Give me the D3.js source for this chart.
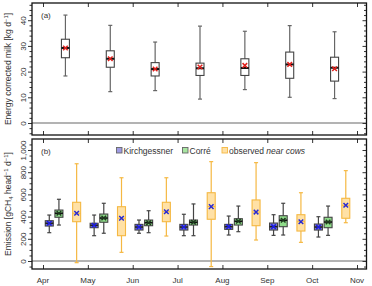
<!DOCTYPE html>
<html lang="en">
<head>
<meta charset="UTF-8">
<title>Milk and methane emission</title>
<script src="https://d3js.org/d3.v7.min.js"></script>
<style>
body { margin: 0; background: #fff; }
svg { font-family: "Liberation Sans", Arial, sans-serif; }
</style>
</head>
<body>
<svg width="372" height="286"></svg>
<script>
// month labels (ticks at the first of each month)
const months = ["Apr", "May", "Jun", "Jul", "Aug", "Sep", "Oct", "Nov"];

// box stats per month: [whisker low, q1, median, q3, whisker high, mean]
const milk = [
  [18.3, 25.4, 29.2, 32.6, 42.0, 29.2],
  [12.2, 21.7, 25.0, 28.1, 38.0, 25.0],
  [12.6, 18.3, 21.0, 23.5, 31.5, 21.0],
  [9.3, 18.5, 21.3, 23.3, 37.7, 21.8],
  [13.0, 18.5, 21.4, 25.0, 35.7, 22.4],
  [10.0, 17.4, 22.8, 27.6, 37.9, 22.8],
  [9.5, 16.3, 21.5, 25.6, 35.5, 21.1]
];
const kirchgessner = [
  [255, 315, 340, 363, 414, 340],
  [228, 300, 322, 340, 414, 322],
  [250, 279, 306, 330, 369, 306],
  [228, 279, 306, 330, 421, 306],
  [234, 285, 309, 330, 405, 309],
  [231, 279, 309, 342, 417, 309],
  [216, 279, 306, 333, 399, 306]
];
const corre = [
  [324, 394, 430, 459, 556, 430],
  [250, 349, 387, 423, 520, 387],
  [255, 318, 345, 369, 453, 345],
  [228, 324, 349, 369, 514, 349],
  [264, 324, 358, 381, 495, 358],
  [234, 309, 367, 408, 520, 367],
  [231, 300, 351, 394, 495, 351]
];
const observed = [
  [-15, 354, 430, 529, 876, 430],
  [78, 228, 385, 489, 750, 385],
  [225, 354, 444, 529, 750, 444],
  [-50, 376, 490, 615, 895, 490],
  [189, 318, 441, 550, 886, 441],
  [168, 270, 354, 417, 615, 354],
  [345, 385, 502, 565, 814, 502]
];

const svg = d3.select("svg");
const left = 32, right = 366.5;
const x = d3.scaleLinear().domain([0, 7]).range([43, 357]);
const yA = d3.scaleLinear().domain([-4.67, 46.7]).range([135, 3]);
const yB = d3.scaleLinear().domain([-72, 1099]).range([269, 139]);

function frame(y, major, minor) {
  const [y0, y1] = y.range();
  const g = svg.append("g");
  // zero line
  g.append("line").attr("x1", left).attr("x2", right)
    .attr("y1", y(0)).attr("y2", y(0))
    .attr("stroke", "#9a9a9a").attr("stroke-width", 1.6);
  // left axis, ticks outward
  const la = g.append("g").attr("transform", `translate(${left},0)`)
    .call(d3.axisLeft(y).tickValues(major).tickSize(4).tickSizeOuter(0));
  la.select(".domain").remove();
  la.selectAll("text").attr("transform", "rotate(-90)")
    .attr("x", 0).attr("y", -6).attr("dy", 0)
    .attr("text-anchor", "middle").attr("font-size", 8).attr("fill", "#333");
  g.append("g").attr("transform", `translate(${left},0)`)
    .call(d3.axisLeft(y).tickValues(minor).tickSize(2.5).tickFormat(""))
    .select(".domain").remove();
  // right axis, ticks inward
  g.append("g").attr("transform", `translate(${right},0)`)
    .call(d3.axisLeft(y).tickValues(major).tickSize(4).tickFormat(""))
    .select(".domain").remove();
  g.append("g").attr("transform", `translate(${right},0)`)
    .call(d3.axisLeft(y).tickValues(minor).tickSize(2.5).tickFormat(""))
    .select(".domain").remove();
  // month ticks top and bottom, inward
  g.append("g").attr("transform", `translate(0,${y1})`)
    .call(d3.axisBottom(x).tickValues(d3.range(8)).tickSize(4).tickFormat(""))
    .select(".domain").remove();
  g.append("g").attr("transform", `translate(0,${y0})`)
    .call(d3.axisTop(x).tickValues(d3.range(8)).tickSize(4).tickFormat(""))
    .select(".domain").remove();
  g.selectAll(".tick line").attr("stroke", "#333");
  g.append("rect").attr("x", left).attr("y", y1)
    .attr("width", right - left).attr("height", y0 - y1)
    .attr("fill", "none").attr("stroke", "#111").attr("stroke-width", 1.3);
  return g;
}

function boxes(y, data, off, st) {
  const w = 8, cap = 4;
  const g = svg.append("g").selectAll("g").data(data).join("g")
    .attr("transform", (d, i) => `translate(${x(i + off)},0)`);
  g.append("line").attr("y1", d => y(d[0])).attr("y2", d => y(d[4]))
    .attr("stroke", st.whisker).attr("stroke-width", 1.2);
  g.selectAll(".cap").data(d => [d[0], d[4]]).join("line")
    .attr("x1", -cap / 2).attr("x2", cap / 2)
    .attr("y1", v => y(v)).attr("y2", v => y(v))
    .attr("stroke", st.whisker).attr("stroke-width", 1.2);
  g.append("rect").attr("x", -w / 2).attr("width", w)
    .attr("y", d => y(d[3])).attr("height", d => y(d[1]) - y(d[3]))
    .attr("fill", st.fill).attr("stroke", st.stroke).attr("stroke-width", 1.1);
  g.append("line").attr("x1", -w / 2).attr("x2", w / 2)
    .attr("y1", d => y(d[2])).attr("y2", d => y(d[2]))
    .attr("stroke", st.median).attr("stroke-width", st.medianWidth);
  const s = 2.3;
  g.append("path")
    .attr("d", d => `M${-s},${y(d[5]) - s}L${s},${y(d[5]) + s}M${-s},${y(d[5]) + s}L${s},${y(d[5]) - s}`)
    .attr("stroke", st.mean).attr("stroke-width", 1.5);
}

// panel (a)
frame(yA, d3.range(0, 41, 10), d3.range(-4, 47, 2).filter(v => v % 10));
boxes(yA, milk, 0.5, { whisker: "#666", fill: "#fff", stroke: "#444", median: "#111", medianWidth: 2, mean: "#e0201c" });

// panel (b)
frame(yB, d3.range(0, 1001, 200), d3.range(-50, 1100, 50).filter(v => v % 200));
boxes(yB, kirchgessner, 0.14, { whisker: "#444", fill: "#7f7cd8", stroke: "#444", median: "#222", medianWidth: 1.6, mean: "#1c1ce0" });
boxes(yB, corre, 0.355, { whisker: "#444", fill: "#8fdc8a", stroke: "#444", median: "#111", medianWidth: 1.6, mean: "#1e3a1e" });
boxes(yB, observed, 0.75, { whisker: "#f5b842", fill: "#ffe1a6", stroke: "#f5b842", median: "#f5b842", medianWidth: 1, mean: "#2a2ad0" });

// month labels
svg.append("g").selectAll("text").data(months).join("text")
  .attr("x", (d, i) => x(i)).attr("y", 283)
  .attr("text-anchor", "middle").attr("font-size", 8).attr("fill", "#333")
  .text(d => d);

// panel tags
svg.append("text").attr("x", 41).attr("y", 18).attr("font-size", 8).attr("fill", "#333").text("(a)");
svg.append("text").attr("x", 41).attr("y", 154).attr("font-size", 8).attr("fill", "#333").text("(b)");

// axis titles
const tA = svg.append("text").attr("transform", `translate(11,${(3 + 135) / 2}) rotate(-90)`)
  .attr("text-anchor", "middle").attr("font-size", 8.5).attr("fill", "#333");
tA.append("tspan").text("Energy corrected milk [kg d");
tA.append("tspan").attr("dy", -3).attr("font-size", 6).text("−1");
tA.append("tspan").attr("dy", 3).text("]");

const tB = svg.append("text").attr("transform", `translate(11,${(139 + 269) / 2}) rotate(-90)`)
  .attr("text-anchor", "middle").attr("font-size", 8.5).attr("fill", "#333");
tB.append("tspan").text("Emission [gCH");
tB.append("tspan").attr("dy", 2).attr("font-size", 6).text("4");
tB.append("tspan").attr("dy", -2).text(" head");
tB.append("tspan").attr("dy", -3).attr("font-size", 6).text("−1");
tB.append("tspan").attr("dy", 3).text(" d");
tB.append("tspan").attr("dy", -3).attr("font-size", 6).text("−1");
tB.append("tspan").attr("dy", 3).text("]");

// legend
const legend = [
  { label: "Kirchgessner", fill: "#9f9be4", stroke: "#666", x: 116.5 },
  { label: "Corré", fill: "#a8e6a2", stroke: "#666", x: 182.5 },
  { label: "observed", fill: "#ffe1a6", stroke: "#f5b842", x: 222 }
];
const lg = svg.append("g").selectAll("g").data(legend).join("g")
  .attr("transform", d => `translate(${d.x},147.5)`);
lg.append("rect").attr("width", 5.5).attr("height", 5.5)
  .attr("fill", d => d.fill).attr("stroke", d => d.stroke).attr("stroke-width", 0.9);
const lt = lg.append("text").attr("x", 7).attr("y", 6)
  .attr("font-size", 8.5).attr("fill", "#333");
lt.append("tspan").text(d => d.label);
lt.filter(d => d.label === "observed").append("tspan")
  .attr("font-style", "italic").text(" near cows");
</script>
</body>
</html>
